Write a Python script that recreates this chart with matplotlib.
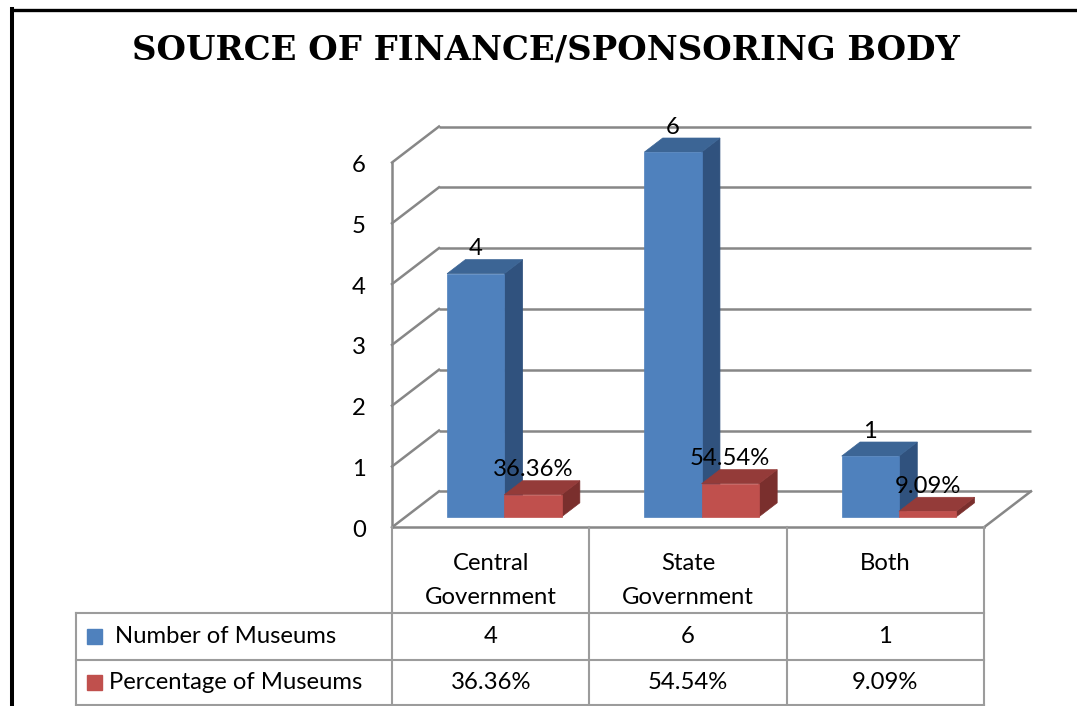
import numpy as np
import matplotlib.pyplot as plt
from matplotlib.patches import Polygon, Rectangle
from matplotlib.lines import Line2D

# data
categories = ['Central\nGovernment', 'State\nGovernment', 'Both']
series_names = ['Number of Museums', 'Percentage of Museums']
museum_counts = [4, 6, 1]
museum_shares = [0.3636, 0.5454, 0.0909]
y_ticks = [0, 1, 2, 3, 4, 5, 6]

count_labels = [str(v) for v in museum_counts]
share_labels = ['%.2f%%' % (v * 100) for v in museum_shares]

# colours: front, top, side
blue = ('#4F81BD', '#3C6595', '#30527E')
red = ('#C0504D', '#943B39', '#7A2F2D')
grid_col = '#878787'
table_col = '#9C9C9C'

# layout in pixels
W, H = 1077, 706
X0, PX_CAT = 392.0, 197.33   # left front corner, px per category
Y0, PX_VAL = 527.3, 60.8     # front floor line, px per unit
DX, DY = 47.0 / PX_CAT, 36.0 / PX_VAL   # wall depth in data units
D1, D2 = 0.29, 0.68          # bar front/back depth
BAR_W = 0.29

def xpx(px):
    return (px - X0) / PX_CAT

def ypx(py):
    return (Y0 - py) / PX_VAL

def proj(x, v, d):
    return (x + d * DX, v + d * DY)

plt.rcParams['font.family'] = ['Lato', 'DejaVu Sans']
fig = plt.figure(figsize=(W / 100, H / 100), dpi=100)
ax = fig.add_axes([0, 0, 1, 1])
ax.set_xlim(xpx(0), xpx(W))
ax.set_ylim(ypx(H), ypx(0))
ax.axis('off')

n = len(categories)
FS = 17.2

# walls and grid
for v in y_ticks:
    p0, p1 = proj(0, v, 1), proj(n, v, 1)
    ax.plot([p0[0], p1[0]], [p0[1], p1[1]], color=grid_col, lw=1.8, zorder=1, solid_capstyle='butt')
    q0 = proj(0, v, 0)
    ax.plot([q0[0], p0[0]], [q0[1], p0[1]], color=grid_col, lw=1.8, zorder=1)
    ax.text(xpx(359), v - 3 / PX_VAL, str(v), ha='center', va='center', fontsize=FS)
ax.plot([0, 0], [0, y_ticks[-1]], color=grid_col, lw=1.8, zorder=1)
ax.plot([0, n], [0, 0], color=grid_col, lw=1.8, zorder=1)
r0, r1 = proj(n, 0, 0), proj(n, 0, 1)
ax.plot([r0[0], r1[0]], [r0[1], r1[1]], color=grid_col, lw=1.8, zorder=1)

def bar3d(x0, x1, v, faces):
    front = [proj(x0, 0, D1), proj(x1, 0, D1), proj(x1, v, D1), proj(x0, v, D1)]
    top = [proj(x0, v, D1), proj(x1, v, D1), proj(x1, v, D2), proj(x0, v, D2)]
    side = [proj(x1, 0, D1), proj(x1, 0, D2), proj(x1, v, D2), proj(x1, v, D1)]
    for pts, c in [(side, faces[2]), (top, faces[1]), (front, faces[0])]:
        ax.add_patch(Polygon(pts, closed=True, facecolor=c, edgecolor=c, lw=0.5, zorder=3))

for i in range(n):
    c = i + 0.5
    bar3d(c - BAR_W, c, museum_counts[i], blue)
    bar3d(c, c + BAR_W, museum_shares[i], red)
    bx, by = proj(c - BAR_W / 2, museum_counts[i], D1)
    ax.text(bx, by + 25 / PX_VAL, count_labels[i], ha='center', va='center', fontsize=FS, zorder=5)
    rx, ry = proj(c + BAR_W / 2, museum_shares[i], D1)
    ax.text(rx, ry + 25 / PX_VAL, share_labels[i], ha='center', va='center', fontsize=FS, zorder=5)

# data table
row_top, row_mid, row_bot = ypx(613), ypx(659.5), ypx(705)
left = xpx(76)
tl = dict(color=table_col, lw=1.5, zorder=2)
ax.plot([0, 0], [0, row_bot], **tl)
for k in range(1, n + 1):
    ax.plot([k, k], [0, row_bot], **tl)
for yy in (row_top, row_mid, row_bot):
    ax.plot([left, n], [yy, yy], **tl)
ax.plot([left, left], [row_top, row_bot], **tl)

for i, cat in enumerate(categories):
    for j, line in enumerate(cat.split('\n')):
        ax.text(i + 0.5, ypx(563 + 34 * j), line, ha='center', va='center', fontsize=FS)
    ax.text(i + 0.5, (row_top + row_mid) / 2, count_labels[i], ha='center', va='center', fontsize=FS)
    ax.text(i + 0.5, (row_mid + row_bot) / 2, share_labels[i], ha='center', va='center', fontsize=FS)

for yy0, yy1, name, col, tx in [(row_top, row_mid, series_names[0], blue[0], 115),
                                 (row_mid, row_bot, series_names[1], red[0], 109)]:
    ym = (yy0 + yy1) / 2
    ax.plot([xpx(94)], [ym], marker='s', ms=10.8, color=col, mec=col, ls='none')
    ax.text(xpx(tx), ym, name, ha='left', va='center', fontsize=FS)

# title and frame
fig.text(546 / W, 1 - 50 / H, 'SOURCE OF FINANCE/SPONSORING BODY', ha='center', va='center',
         fontsize=24.4, fontweight='bold', family='DejaVu Serif')
fig.add_artist(Line2D([12 / W, 1], [1 - 10 / H, 1 - 10 / H], color='black', lw=2.4))
fig.add_artist(Line2D([12 / W, 12 / W], [0, 1 - 9 / H], color='black', lw=2.9))

fig.savefig('out.png', dpi=100)
